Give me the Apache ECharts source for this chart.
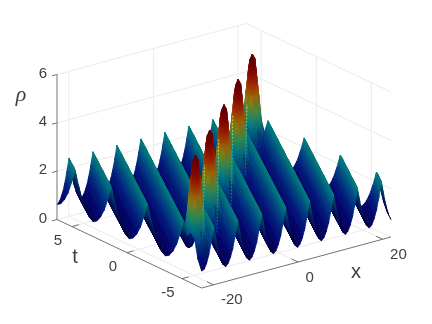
<!DOCTYPE html>
<html><head><meta charset="utf-8">
<style>html,body{margin:0;padding:0;background:#fff}#c{width:432px;height:324px}</style>
<script src="https://cdn.jsdelivr.net/npm/echarts@6/dist/echarts.min.js"></script>
</head><body><div id="c"></div>
<script>
// All values below.
const xTicks = [-20, 0, 20];
const tTicks = [5, 0, -5];
const zTicks = [0, 2, 4, 6];
const xLabels = ['-20', '0', '20'];
const tLabels = ['5', '0', '-5'];
const zLabels = ['0', '2', '4', '6'];
const xRange = [-22.8, 22];
const tRange = [-6.79, 6.36];
const zRange = [0, 6];
// one period of the repeating ridge, read across a ridge from trough to crest to trough
const ridgeProfile = [0.62, 0.72, 0.95, 1.3, 1.8, 2.4, 1.8, 1.3, 0.95, 0.72];
// the five tall peaks
const peakX = [-20.4, -10.2, 0, 10.2, 20.4];
const peakT = [-5.26, -2.63, 0, 2.63, 5.26];
// heights around one tall peak: rows run along the valley, columns across it
const peakPatch = [
  [1.8, 1.3, 0.95, 0.72, 0.62, 0.72, 0.95, 1.3, 1.8],
  [1.8, 1.3, 0.95, 0.75, 0.7, 0.75, 0.95, 1.3, 1.8],
  [1.8, 1.4, 1.15, 1.1, 1.1, 1.1, 1.15, 1.4, 1.8],
  [1.8, 1.7, 1.9, 2.1, 2.2, 2.1, 1.9, 1.7, 1.8],
  [1.85, 2.1, 2.8, 3.3, 3.5, 3.3, 2.8, 2.1, 1.85],
  [1.9, 2.4, 3.5, 4.4, 4.6, 4.4, 3.5, 2.4, 1.9],
  [1.9, 2.5, 3.8, 4.8, 5.0, 4.8, 3.8, 2.5, 1.9],
  [1.9, 2.4, 3.5, 4.4, 4.6, 4.4, 3.5, 2.4, 1.9],
  [1.85, 2.1, 2.8, 3.3, 3.5, 3.3, 2.8, 2.1, 1.85],
  [1.8, 1.7, 1.9, 2.1, 2.2, 2.1, 1.9, 1.7, 1.8],
  [1.8, 1.4, 1.15, 1.1, 1.1, 1.1, 1.15, 1.4, 1.8],
  [1.8, 1.3, 0.95, 0.75, 0.7, 0.75, 0.95, 1.3, 1.8],
  [1.8, 1.3, 0.95, 0.72, 0.62, 0.72, 0.95, 1.3, 1.8]
];
// thin bright creases on the surface: start and end of each [x, t, z]
const creaseStart = [[-20.5, -6, 1.6], [-10.3, -3.37, 0.98], [-0.1, -0.74, 0.76], [10.1, 1.89, 1.24]];
const creaseEnd = [[-11.3, -2.63, 3.65], [-1.1, 0, 3.65], [9.1, 2.63, 3.65], [19.3, 5.26, 3.0]];
const creaseColours = ['#0050e0', '#00c8f0', '#ffe030'];
const colourHeights = [0.5, 0.9, 1.5, 2.0, 2.4, 2.8, 3.2, 3.6, 4.0, 4.5, 5.0];
const colourValues = [[0,0,70],[0,0,105],[0,35,125],[0,85,130],[0,130,125],[60,135,70],[140,130,10],[165,80,0],[150,20,0],[120,0,0],[85,0,0]];

const NX = 79, NT = 40;
const dx = (xRange[1] - xRange[0]) / NX, dt = (tRange[1] - tRange[0]) / NT;
const X = i => xRange[0] + i * dx, T = j => tRange[0] + j * dt;

const grid = [];
for (let j = 0; j <= NT; j++) {
  grid.push([]);
  for (let i = 0; i <= NX; i++) grid[j].push(ridgeProfile[(((i - j) % 10) + 10) % 10]);
}
peakX.forEach((px, k) => {
  const i0 = Math.round((px - xRange[0]) / dx), j0 = Math.round((peakT[k] - tRange[0]) / dt);
  const s = i0 - j0 - (((i0 - j0 + 5) % 10 + 10) % 10 - 5); // stay on the valley
  peakPatch.forEach((row, r) => row.forEach((v, c) => {
    const j = j0 + r - 6, i = j + s + (c - 4);
    if (j >= 0 && j <= NT && i >= 0 && i <= NX) grid[j][i] = v;
  }));
});

// orthographic view of the box
const L = { x: 57, y: 219.5 };
const ux = 189.3 / (xRange[1] - xRange[0]), vx = -51 / (xRange[1] - xRange[0]);
const ut = 144.7 / (tRange[1] - tRange[0]), vt = 68.5 / (tRange[1] - tRange[0]);
const vz = -145 / (zRange[1] - zRange[0]);
const proj = (x, t, z) => [
  L.x + ux * (x - xRange[0]) + ut * (tRange[1] - t),
  L.y + vx * (x - xRange[0]) + vt * (tRange[1] - t) + vz * z
];
function colour(z, f) {
  let k = 0;
  while (k < colourHeights.length - 2 && z > colourHeights[k + 1]) k++;
  const a = Math.min(1, Math.max(0, (z - colourHeights[k]) / (colourHeights[k + 1] - colourHeights[k])));
  const c = colourValues[k].map((v, n) => Math.round((v + (colourValues[k + 1][n] - v) * a) * f));
  return 'rgb(' + c.join(',') + ')';
}
// smooth fill over a triangle, like interpolated shading
function shade(p, z, f) {
  const zs = [z[0], z[1], z[2]];
  const lo = zs.indexOf(Math.min(...zs)), zmin = zs[lo], zmax = Math.max(...zs);
  const mid = colour((zmin + zmax) / 2, f);
  if (zmax - zmin < 1e-3) return mid;
  const ax = p[1][0] - p[0][0], ay = p[1][1] - p[0][1], bx = p[2][0] - p[0][0], by = p[2][1] - p[0][1];
  const det = ax * by - ay * bx;
  if (Math.abs(det) < 0.05) return mid;
  const da = z[1] - z[0], db = z[2] - z[0];
  const gx = (da * by - db * ay) / det, gy = (db * ax - da * bx) / det;
  const g2 = gx * gx + gy * gy;
  const s = (zmax - zmin) / g2;
  return new echarts.graphic.LinearGradient(p[lo][0], p[lo][1], p[lo][0] + gx * s, p[lo][1] + gy * s, [
    { offset: 0, color: colour(zmin, f) },
    { offset: 0.5, color: mid },
    { offset: 1, color: colour(zmax, f) }
  ], true);
}

// triangles back to front
const tris = [];
for (let j = NT - 1; j >= 0; j--) for (let i = NX - 1; i >= 0; i--) {
  tris.push([i, j, 0]);
  tris.push([i, j, 1]);
}
const items = [];
const line = (a, b) => items.push({ a, b });
const [x0, x1] = xRange, [t0, t1] = tRange, zTop = zRange[1];
const GRID = '#ebebeb', AX = '#737373';
zTicks.forEach(z => {
  line([x0, t1, z], [x1, t1, z]);
  line([x1, t1, z], [x1, t0, z]);
});
xTicks.forEach(x => {
  line([x, t1, 0], [x, t1, zTop]);
  line([x, t0, 0], [x, t1, 0]);
});
tTicks.forEach(t => {
  line([x1, t, 0], [x1, t, zTop]);
  line([x0, t, 0], [x1, t, 0]);
});
const sans = '"Liberation Sans", Arial, sans-serif';

const chart = echarts.init(document.getElementById('c'), null, { renderer: 'canvas', width: 432, height: 324 });
function P(api, p3) { return api.coord(proj(p3[0], p3[1], p3[2])); }

const axisItems = [];
const axLine = (a, b) => axisItems.push({ a, b });
axLine([x0, t1, 0], [x0, t1, zTop]);
axLine([x0, t1, 0], [x0, t0, 0]);
axLine([x0, t0, 0], [x1, t0, 0]);
zTicks.forEach(z => axLine([x0, t1, z], [x0 - 1.2, t1, z]));
tTicks.forEach(t => axLine([x0, t, 0], [x0 + 1.6, t, 0]));
xTicks.forEach(x => axLine([x, t0, 0], [x, t0 + 0.6, 0]));

const texts = [];
zTicks.forEach((z, n) => { const q = proj(x0, t1, z); texts.push([q[0] - 14, q[1] - 1, zLabels[n], 15, sans, 'normal', 'center']); });
tTicks.forEach((t, n) => { const q = proj(x0, t, 0); texts.push([q[0] - 14, q[1] + 14, tLabels[n], 15, sans, 'normal', 'center']); });
xTicks.forEach((x, n) => { const q = proj(x, t0, 0); texts.push([q[0] + 7.5, q[1] + 15.5, xLabels[n], 15, sans, 'normal', 'left']); });
texts.push([75, 257, 't', 20, sans, 'normal', 'center']);
texts.push([356, 272, 'x', 20, sans, 'normal', 'center']);
texts.push([21, 95, 'ρ', 22, '"Liberation Serif", serif', 'italic', 'center']);

chart.setOption({
  animation: false,
  backgroundColor: '#fff',
  grid: { left: 0, right: 0, top: 0, bottom: 0 },
  xAxis: { type: 'value', min: 0, max: 432, show: false },
  yAxis: { type: 'value', min: 0, max: 324, inverse: true, show: false },
  series: [
    {
      type: 'custom', z: 1, silent: true, clip: false, coordinateSystem: 'cartesian2d',
      data: items.map((_, n) => [n]), progressive: 0,
      renderItem(params, api) {
        const it = items[api.value(0)];
        const a = P(api, it.a), b = P(api, it.b);
        return { type: 'line', shape: { x1: a[0], y1: a[1], x2: b[0], y2: b[1] }, style: { stroke: GRID, lineWidth: 1 } };
      }
    },
    {
      type: 'custom', z: 2, silent: true, clip: false, coordinateSystem: 'cartesian2d',
      data: tris, progressive: 0,
      renderItem(params, api) {
        const i = api.value(0), j = api.value(1), k = api.value(2);
        // split each cell along the ridge direction
        const a = [X(i), T(j), grid[j][i]];
        const c = [X(i + 1), T(j + 1), grid[j + 1][i + 1]];
        const b = k === 0 ? [X(i + 1), T(j), grid[j][i + 1]] : [X(i), T(j + 1), grid[j + 1][i]];
        const slope = k === 0 ? b[2] - a[2] : c[2] - b[2];
        const high = Math.max(a[2], b[2], c[2]) > 2.5;
        const f = (slope < -0.02 && !high) ? 0.75 : 1;
        const pts = [P(api, a), P(api, b), P(api, c)];
        const fill = shade(pts, [a[2], b[2], c[2]], f);
        return { type: 'polygon', shape: { points: pts }, style: { fill, stroke: fill, lineWidth: 0.8 } };
      }
    },
    {
      type: 'custom', z: 3, silent: true, clip: false, coordinateSystem: 'cartesian2d',
      data: creaseStart.map((_, n) => [n]), progressive: 0,
      renderItem(params, api) {
        const n = api.value(0);
        const a = P(api, creaseStart[n]), b = P(api, creaseEnd[n]);
        const grad = new echarts.graphic.LinearGradient(a[0], a[1], b[0], b[1],
          creaseColours.map((color, m) => ({ offset: m / (creaseColours.length - 1), color })), true);
        return { type: 'line', shape: { x1: a[0], y1: a[1], x2: b[0], y2: b[1] }, style: { stroke: grad, lineWidth: 1, lineDash: [2, 1.5], opacity: 0.9 } };
      }
    },
    {
      type: 'custom', z: 4, silent: true, clip: false, coordinateSystem: 'cartesian2d',
      data: axisItems.map((_, n) => [n]), progressive: 0,
      renderItem(params, api) {
        const it = axisItems[api.value(0)];
        const a = P(api, it.a), b = P(api, it.b);
        return { type: 'line', shape: { x1: a[0], y1: a[1], x2: b[0], y2: b[1] }, style: { stroke: AX, lineWidth: 1 } };
      }
    },
    {
      type: 'custom', z: 5, silent: true, clip: false, coordinateSystem: 'cartesian2d',
      data: texts.map((_, n) => [n]), progressive: 0,
      renderItem(params, api) {
        const tx = texts[api.value(0)];
        const q = api.coord([tx[0], tx[1]]);
        return { type: 'text', style: { x: q[0], y: q[1], text: tx[2], fontSize: tx[3], fontFamily: tx[4], fontStyle: tx[5], fill: '#404040', align: tx[6], verticalAlign: 'middle' } };
      }
    }
  ]
});
</script></body></html>
